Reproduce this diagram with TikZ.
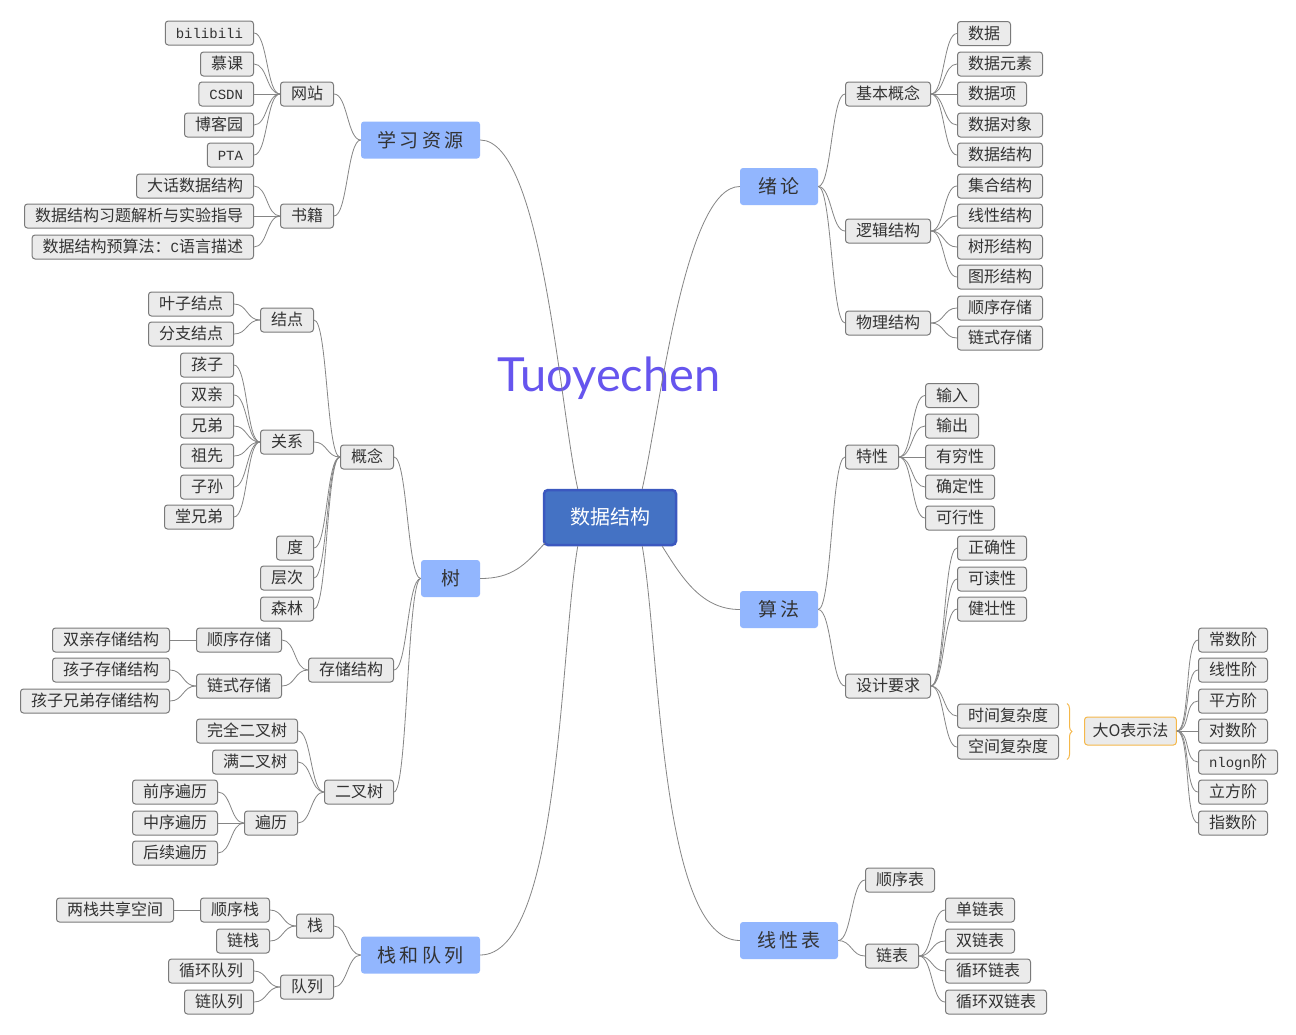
\documentclass[tikz,border=0pt]{standalone}
\usepackage{fontspec}
\setmainfont{Noto Sans CJK SC}
\newfontfamily\latn{Liberation Mono}
\newfontfamily\wmfont{Lato}
\usetikzlibrary{decorations.pathreplacing}
\definecolor{rootfill}{HTML}{4472C4}
\definecolor{rootdraw}{HTML}{3B58BF}
\definecolor{topicfill}{HTML}{92B6FE}
\definecolor{subfill}{HTML}{EBEBEB}
\definecolor{subdraw}{HTML}{7A7A7A}
\definecolor{conncol}{HTML}{858585}
\definecolor{txt}{HTML}{333333}
\definecolor{orng}{HTML}{F5B84A}
\definecolor{wmcol}{HTML}{6655EE}
\newcommand\mylat[1]{{\latn\fontsize{14pt}{14pt}\selectfont #1}}
\newcommand\conR[2]{\draw[conn] (#1.east) .. controls +(13.5,0) and +(-13.5,0) .. (#2.west);}
\newcommand\conL[2]{\draw[conn] (#1.west) .. controls +(-13.5,0) and +(13.5,0) .. (#2.east);}
\tikzset{
  conn/.style={draw=conncol, line width=0.8pt},
  sub/.style={draw=subdraw, fill=subfill, rounded corners=3pt, line width=1pt,
    minimum height=24pt, inner xsep=10.5pt, inner ysep=0pt, text=txt,
    font=\fontsize{16pt}{16pt}\selectfont, text height=13.5pt, text depth=2pt},
  topic/.style={fill=topicfill, rounded corners=3pt, minimum height=37pt,
    inner xsep=0pt, inner ysep=0pt, text=txt,
    font=\fontsize{19pt}{19pt}\selectfont, text height=16pt, text depth=2pt},
  rootbox/.style={fill=rootfill, draw=rootdraw, line width=2.5pt, rounded corners=4pt,
    minimum width=132pt, minimum height=55pt, text=white,
    font=\fontsize{20pt}{20pt}\selectfont, text height=17pt, text depth=2.5pt},
  bigo/.style={sub, draw=orng, minimum height=28pt, inner xsep=8pt, minimum width=87pt},
  rs/.style={sub, anchor=west},
  ls/.style={sub, anchor=east}
}
\begin{document}
\begin{tikzpicture}[x=1pt, y=-1pt]
\useasboundingbox (0,0) rectangle (1296,1034);
\fill[white] (0,0) rectangle (1296,1034);

% watermark
\node[text=wmcol, font=\wmfont\fontsize{47pt}{47pt}\selectfont] (wm) at (609,378) {Tuoyechen};

% root and main topics
\node[rootbox] (root) at (610,517.5) {数据结构};
\node[topic, minimum width=119pt] (xxzy) at (420.5,140) {学\,习\,资\,源};
\node[topic, minimum width=78pt] (xl) at (779,186.5) {绪\,论};
\node[topic, minimum width=78pt] (sf) at (779,609.5) {算\,法};
\node[topic, minimum width=59pt] (tree) at (450.5,578.5) {树};
\node[topic, minimum width=119pt] (zdl) at (420.5,955) {栈\,和\,队\,列};
\node[topic, minimum width=98pt] (xxb) at (789,940.5) {线\,性\,表};

\draw[conn] ([xshift=35pt]root.north west) .. controls +(-18,-80) and +(62,0) .. (xxzy.east);
\draw[conn] ([xshift=-35pt]root.north east) .. controls +(18,-80) and +(-55,0) .. (xl.west);
\draw[conn] ([shift={(2,-3)}]root.south west) .. controls +(-20,22) and +(32,0) .. (tree.east);
\draw[conn] ([xshift=-15pt]root.south east) .. controls +(20,32) and +(-38,0) .. (sf.west);
\draw[conn] ([xshift=35pt]root.south west) .. controls +(-18,104) and +(80,0) .. (zdl.east);
\draw[conn] ([xshift=-35pt]root.south east) .. controls +(18,104) and +(-80,0) .. (xxb.west);

% ---------- 学习资源 ----------
\node[ls] (wz) at (334,94) {网站};
\node[ls] (sj) at (334,216) {书籍};
\node[ls] (bili) at (254,33) {\mylat{bilibili}};
\node[ls] (mk) at (254,64) {慕课};
\node[ls] (csdn) at (254,94) {\mylat{CSDN}};
\node[ls] (bky) at (254,125) {博客园};
\node[ls] (pta) at (254,155) {\mylat{PTA}};
\node[ls] (dh) at (254,186) {大话数据结构};
\node[ls] (xt) at (254,216) {数据结构习题解析与实验指导};
\node[ls] (ys) at (254,247) {数据结构预算法：\mylat{C}语言描述};
\conL{xxzy}{wz}\conL{xxzy}{sj}
\conL{wz}{bili}\conL{wz}{mk}\conL{wz}{csdn}\conL{wz}{bky}\conL{wz}{pta}
\conL{sj}{dh}\conL{sj}{xt}\conL{sj}{ys}

% ---------- 树 ----------
\node[ls] (gn) at (394,457) {概念};
\node[ls] (ccjg) at (394,670) {存储结构};
\node[ls] (ecs) at (394,792) {二叉树};
\conL{tree}{gn}\conL{tree}{ccjg}\conL{tree}{ecs}
\node[ls] (jd) at (314,320) {结点};
\node[ls] (gx) at (314,442) {关系};
\node[ls] (du) at (314,548) {度};
\node[ls] (cc) at (314,578) {层次};
\node[ls] (sl) at (314,609) {森林};
\conL{gn}{jd}\conL{gn}{gx}\conL{gn}{du}\conL{gn}{cc}\conL{gn}{sl}
\node[ls] (yz) at (234,304) {叶子结点};
\node[ls] (fz) at (234,334) {分支结点};
\conL{jd}{yz}\conL{jd}{fz}
\node[ls] (hz) at (234,365) {孩子};
\node[ls] (sq) at (234,395) {双亲};
\node[ls] (xd) at (234,426) {兄弟};
\node[ls] (zx) at (234,456) {祖先};
\node[ls] (zs) at (234,487) {子孙};
\node[ls] (txd) at (234,517) {堂兄弟};
\conL{gx}{hz}\conL{gx}{sq}\conL{gx}{xd}\conL{gx}{zx}\conL{gx}{zs}\conL{gx}{txd}
\node[ls] (sxcc) at (282,640) {顺序存储};
\node[ls] (lscc) at (282,686) {链式存储};
\conL{ccjg}{sxcc}\conL{ccjg}{lscc}
\node[ls] (sqcc) at (170,640) {双亲存储结构};
\node[ls] (hzcc) at (170,670) {孩子存储结构};
\node[ls] (hxcc) at (170,701) {孩子兄弟存储结构};
\conL{sxcc}{sqcc}\conL{lscc}{hzcc}\conL{lscc}{hxcc}
\node[ls] (wq) at (298,731) {完全二叉树};
\node[ls] (me) at (298,762) {满二叉树};
\node[ls] (bl) at (298,823) {遍历};
\conL{ecs}{wq}\conL{ecs}{me}\conL{ecs}{bl}
\node[ls] (qx) at (218,792) {前序遍历};
\node[ls] (zxbl) at (218,823) {中序遍历};
\node[ls] (hx) at (218,853) {后续遍历};
\conL{bl}{qx}\conL{bl}{zxbl}\conL{bl}{hx}

% ---------- 栈和队列 ----------
\node[ls] (zhan) at (334,926) {栈};
\node[ls] (dl) at (334,987) {队列};
\conL{zdl}{zhan}\conL{zdl}{dl}
\node[ls] (sxz) at (270,910) {顺序栈};
\node[ls] (lz) at (270,941) {链栈};
\conL{zhan}{sxz}\conL{zhan}{lz}
\node[ls] (lzgx) at (174,910) {两栈共享空间};
\conL{sxz}{lzgx}
\node[ls] (xhdl) at (254,971) {循环队列};
\node[ls] (ldl) at (254,1002) {链队列};
\conL{dl}{xhdl}\conL{dl}{ldl}

% ---------- 绪论 ----------
\node[rs] (jbgn) at (845,94) {基本概念};
\node[rs] (ljjg) at (845,231) {逻辑结构};
\node[rs] (wljg) at (845,323) {物理结构};
\conR{xl}{jbgn}\conR{xl}{ljjg}\conR{xl}{wljg}
\node[rs] (d1) at (957,33.5) {数据};
\node[rs] (d2) at (957,64) {数据元素};
\node[rs] (d3) at (957,94) {数据项};
\node[rs] (d4) at (957,125) {数据对象};
\node[rs] (d5) at (957,155) {数据结构};
\conR{jbgn}{d1}\conR{jbgn}{d2}\conR{jbgn}{d3}\conR{jbgn}{d4}\conR{jbgn}{d5}
\node[rs] (l1) at (957,186) {集合结构};
\node[rs] (l2) at (957,216) {线性结构};
\node[rs] (l3) at (957,247) {树形结构};
\node[rs] (l4) at (957,277) {图形结构};
\conR{ljjg}{l1}\conR{ljjg}{l2}\conR{ljjg}{l3}\conR{ljjg}{l4}
\node[rs] (p1) at (957,308) {顺序存储};
\node[rs] (p2) at (957,338) {链式存储};
\conR{wljg}{p1}\conR{wljg}{p2}

% ---------- 算法 ----------
\node[rs] (tx) at (845,457) {特性};
\node[rs] (sjyq) at (845,686) {设计要求};
\conR{sf}{tx}\conR{sf}{sjyq}
\node[rs] (t1) at (925,395.5) {输入};
\node[rs] (t2) at (925,426) {输出};
\node[rs] (t3) at (925,457) {有穷性};
\node[rs] (t4) at (925,487) {确定性};
\node[rs] (t5) at (925,518) {可行性};
\conR{tx}{t1}\conR{tx}{t2}\conR{tx}{t3}\conR{tx}{t4}\conR{tx}{t5}
\node[rs] (y1) at (957,548) {正确性};
\node[rs] (y2) at (957,579) {可读性};
\node[rs] (y3) at (957,609) {健壮性};
\node[rs] (sjfz) at (957,716) {时间复杂度};
\node[rs] (kjfz) at (957,747) {空间复杂度};
\conR{sjyq}{y1}\conR{sjyq}{y2}\conR{sjyq}{y3}\conR{sjyq}{sjfz}\conR{sjyq}{kjfz}
\draw[draw=orng, line width=1pt, decorate, decoration={brace, amplitude=5pt}]
  ([xshift=8pt]sjfz.north east) -- ([xshift=8pt]kjfz.south east);
\node[bigo, anchor=west] (bigO) at (1084,731) {大O表示法};
\node[rs] (o1) at (1198,640) {常数阶};
\node[rs] (o2) at (1198,670) {线性阶};
\node[rs] (o3) at (1198,701) {平方阶};
\node[rs] (o4) at (1198,731) {对数阶};
\node[rs] (o5) at (1198,762) {\mylat{nlogn}阶};
\node[rs] (o6) at (1198,792) {立方阶};
\node[rs] (o7) at (1198,823) {指数阶};
\conR{bigO}{o1}\conR{bigO}{o2}\conR{bigO}{o3}\conR{bigO}{o4}\conR{bigO}{o5}\conR{bigO}{o6}\conR{bigO}{o7}

% ---------- 线性表 ----------
\node[rs] (sxb) at (865,880) {顺序表};
\node[rs] (lb) at (865,956) {链表};
\conR{xxb}{sxb}\conR{xxb}{lb}
\node[rs] (b1) at (945,910) {单链表};
\node[rs] (b2) at (945,941) {双链表};
\node[rs] (b3) at (945,971) {循环链表};
\node[rs] (b4) at (945,1002) {循环双链表};
\conR{lb}{b1}\conR{lb}{b2}\conR{lb}{b3}\conR{lb}{b4}
\end{tikzpicture}
\end{document}
